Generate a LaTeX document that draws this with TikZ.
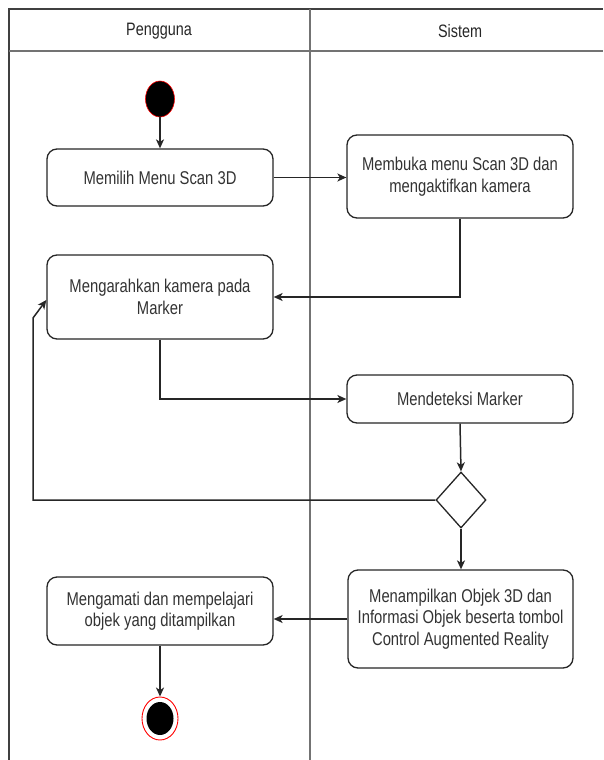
\documentclass[tikz,border=0pt]{standalone}
\usepackage{fontspec}
\setmainfont{Liberation Sans}[FakeStretch=0.8]
\usetikzlibrary{arrows.meta,shapes.geometric}
\begin{document}
\begin{tikzpicture}[x=1pt,y=-1pt,
 act/.style={draw=black!85, line width=1.3pt, rounded corners=10pt, fill=white, align=center,
   font=\fontsize{18.5}{21.5}\selectfont, text=black!80, inner sep=0pt},
 flow/.style={draw=black!85, line width=1.5pt, -{Stealth[length=9pt,width=8pt,inset=2.5pt]}},
 lane/.style={draw=black!55, line width=1.7pt},
 head/.style={font=\fontsize{18}{21}\selectfont, text=black!85}]
\useasboundingbox (0,0) rectangle (603,760);
% swimlanes
\draw[lane, draw=black!75] (9,760) -- (9,9) -- (603,9);
\draw[lane] (9,51) -- (603,51);
\draw[lane] (310,9) -- (310,760);
\node[head] (h1) at (159,31) {Pengguna};
\node[head] (h2) at (460,31) {Sistem};
% nodes
\node[ellipse, fill=black, draw=red, line width=0.6pt, minimum width=29pt, minimum height=36pt, inner sep=0pt] (s) at (160,99) {};
\node[act, minimum width=226pt, minimum height=57pt] (a1) at (160,177.5) {Memilih Menu Scan 3D};
\node[act, minimum width=226pt, minimum height=83pt] (a2) at (460,176.5) {Membuka menu Scan 3D dan\\mengaktifkan kamera};
\node[act, minimum width=226pt, minimum height=84pt] (a3) at (160,297) {Mengarahkan kamera pada\\Marker};
\node[act, minimum width=226pt, minimum height=48pt] (a4) at (460,399) {Mendeteksi Marker};
\node[diamond, draw=black!85, line width=1.3pt, fill=white, minimum width=50pt, minimum height=56pt, inner sep=0pt] (d) at (461,500) {};
\node[act, minimum width=225pt, minimum height=98pt] (a5) at (460.5,619) {Menampilkan Objek 3D dan\\Informasi Objek beserta tombol\\Control Augmented Reality};
\node[act, minimum width=226pt, minimum height=68pt] (a6) at (160,611) {Mengamati dan mempelajari\\objek yang ditampilkan};
\node[ellipse, draw=red, line width=0.9pt, fill=white, minimum width=36pt, minimum height=43pt, inner sep=0pt] (e) at (160,718.5) {};
\node[ellipse, fill=black, minimum width=27pt, minimum height=33pt, inner sep=0pt] (e2) at (e) {};
% flows
\draw[flow] (s) -- (a1);
\draw[flow] (a1.east) -- (a2.west |- a1.east);
\draw[flow] (a2.south) -- (460,297) -- (a3.east);
\draw[flow] (a3.south) -- (160,399) -- (a4.west);
\draw[flow] (a4.south) -- (d.north);
\draw[flow] (d.west) -- (33,500) -- (33,318) -- ([yshift=-3pt]a3.west);
\draw[flow] (d.south) -- (a5.north -| d.south);
\draw[flow] (a5.west) -- (a6.east |- a5.west);
\draw[flow] (a6.south) -- (e.north);
\end{tikzpicture}
\end{document}
